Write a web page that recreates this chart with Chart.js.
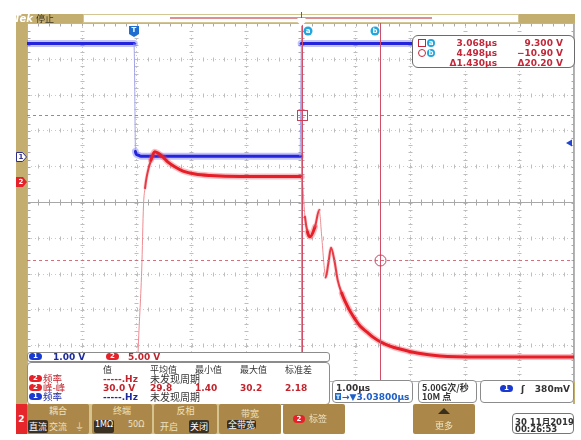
<!DOCTYPE html>
<html>
<head>
<meta charset="utf-8">
<script src="https://cdn.jsdelivr.net/npm/chart.js@4.4.1/dist/chart.umd.min.js"></script>
<style>
    html, body { margin: 0; padding: 0; background: #fff; }
    #scope { position: relative; width: 581px; height: 440px; overflow: hidden; font-family: "DejaVu Sans", sans-serif; }
    #scope canvas { position: absolute; left: 0; top: 0; }
    .box { position: absolute; background: #fff; border: 1px solid #8c8c8c; border-radius: 4px; box-sizing: border-box; }
    .t { position: absolute; white-space: nowrap; line-height: 9px; }
    .b9 { font: bold 9px "DejaVu Sans"; }
    .cjk { font-family: "Noto Sans CJK SC"; }
    .pill { position: absolute; width: 13px; height: 7px; border-radius: 4px; color: #fff; font: bold 7px "DejaVu Sans"; line-height: 7px; text-align: center; }
    .pill.blue { background: #1b3bd0; }
    .pill.red { background: #e5222a; }
    .c-blue { color: #1c2a9e; }
    .c-red { color: #c0252e; }
    .c-dark { color: #333; }
    .btn { position: absolute; top: 404px; height: 30px; background: #ab8849; border-radius: 2px; }
    .btn .ttl { position: absolute; left: 0; width: 100%; top: 1px; text-align: center; color: #eee2c2; font: 9px "Noto Sans CJK SC"; line-height: 12px; }
    .opt { position: absolute; top: 16px; height: 13px; line-height: 13px; color: #eee2c2; font: 9px "Noto Sans CJK SC"; white-space: nowrap; }
    .opt.sel { background: #3a3123; color: #fff; border-radius: 2px; padding: 0 1px; }
    .cur-val { position: absolute; font: bold 9px "DejaVu Sans"; color: #c2283a; line-height: 10px; white-space: nowrap; }
    .csq { position: absolute; width: 6px; height: 6px; border: 1px solid #c2283a; }
    .ccl { position: absolute; width: 6px; height: 6px; border: 1px solid #c2283a; border-radius: 50%; }
    .clbl { position: absolute; width: 8px; height: 8px; border-radius: 50%; background: #22a6de; color: #fff; font: bold 7px "DejaVu Sans"; line-height: 8px; text-align: center; }
</style>
</head>
<body>
<div id="scope">
    <canvas id="scope-canvas" width="581" height="440"></canvas>

    <!-- Lectura de cursores -->
    <div class="box" style="left:412px;top:35px;width:163px;height:33px;border-color:#6b6b6b;border-radius:6px;">
        <span class="csq" style="left:5px;top:3px"></span>
        <span class="clbl" style="left:14px;top:3px">a</span>
        <span class="ccl" style="left:5px;top:13px"></span>
        <span class="clbl" style="left:14px;top:13px">b</span>
        <span class="cur-val" id="cur-ta" style="right:77px;top:2px"></span>
        <span class="cur-val" id="cur-va" style="right:11px;top:2px"></span>
        <span class="cur-val" id="cur-tb" style="right:77px;top:12px"></span>
        <span class="cur-val" id="cur-vb" style="right:11px;top:12px"></span>
        <span class="cur-val" id="cur-dt" style="right:77px;top:22px"></span>
        <span class="cur-val" id="cur-dv" style="right:11px;top:22px"></span>
    </div>

    <!-- Escala vertical de canales -->
    <div class="box" style="left:27px;top:352px;width:303px;height:10px;border-radius:3px;">
        <span class="pill blue" style="left:1px;top:0px">1</span>
        <span class="t b9 c-blue" style="left:25px;top:-1px">1.00 V</span>
        <span class="pill red" style="left:78px;top:0px">2</span>
        <span class="t b9 c-red" style="left:100px;top:-1px">5.00 V</span>
    </div>

    <!-- Tabla de mediciones -->
    <div class="box" style="left:27px;top:362px;width:303px;height:43px;border-radius:4px;">
        <span class="t cjk c-dark" style="left:75px;top:2px;font-size:9px">值</span>
        <span class="t cjk c-dark" style="left:122px;top:2px;font-size:9px">平均值</span>
        <span class="t cjk c-dark" style="left:167px;top:2px;font-size:9px">最小值</span>
        <span class="t cjk c-dark" style="left:212px;top:2px;font-size:9px">最大值</span>
        <span class="t cjk c-dark" style="left:257px;top:2px;font-size:9px">标准差</span>

        <span class="pill red" style="left:1px;top:12px">2</span>
        <span class="t cjk c-red" style="left:15px;top:11px;font-size:9.5px">频率</span>
        <span class="t b9 c-red" style="left:75px;top:11px">-----.Hz</span>
        <span class="t cjk c-dark" style="left:122px;top:11px;font-size:10px">未发现周期</span>

        <span class="pill red" style="left:1px;top:21px">2</span>
        <span class="t cjk c-red" style="left:15px;top:20px;font-size:9.5px">峰-峰</span>
        <span class="t b9 c-red" style="left:75px;top:20px">30.0 V</span>
        <span class="t b9 c-red" style="left:122px;top:20px">29.8</span>
        <span class="t b9 c-red" style="left:167px;top:20px">1.40</span>
        <span class="t b9 c-red" style="left:212px;top:20px">30.2</span>
        <span class="t b9 c-red" style="left:257px;top:20px">2.18</span>

        <span class="pill blue" style="left:1px;top:30px">1</span>
        <span class="t cjk c-blue" style="left:15px;top:29px;font-size:9.5px">频率</span>
        <span class="t b9 c-blue" style="left:75px;top:29px">-----.Hz</span>
        <span class="t cjk c-dark" style="left:122px;top:29px;font-size:10px">未发现周期</span>
    </div>

    <!-- Base de tiempo, muestreo y disparo -->
    <div class="box" style="left:332px;top:380px;width:81px;height:23px;">
        <span class="t b9 c-dark" style="left:3px;top:2px">1.00µs</span>
        <span style="position:absolute;left:2px;top:12px;width:6px;height:7px;background:#1f6fd1;color:#fff;font:bold 6px 'DejaVu Sans';line-height:7px;text-align:center">T</span>
        <span class="t b9" style="left:9px;top:11px;color:#1f5fc8">→▼3.03800µs</span>
    </div>
    <div class="box" style="left:418px;top:380px;width:59px;height:23px;">
        <span class="t cjk c-dark" style="left:3px;top:2px;font-size:9px;font-weight:bold">5.00G次/秒</span>
        <span class="t cjk c-dark" style="left:3px;top:11px;font-size:9px;font-weight:bold">10M 点</span>
    </div>
    <div class="box" style="left:480px;top:380px;width:94px;height:23px;">
        <span class="pill blue" style="left:19px;top:4px">1</span>
        <span class="t b9 c-dark" style="left:40px;top:3px">ʃ</span>
        <span class="t b9 c-dark" style="right:3px;top:3px">380mV</span>
    </div>

    <!-- Menú inferior -->
    <div style="position:absolute;left:16px;top:404px;width:11px;height:30px;background:#e5262a;color:#fff;font:bold 9px 'DejaVu Sans';line-height:30px;text-align:center">2</div>
    <div style="position:absolute;left:27px;top:404px;width:254px;height:30px;background:#d6c48e"></div>
    <div class="btn" style="left:27px;width:62px;">
        <span class="ttl">耦合</span>
        <span class="opt sel" style="left:1px">直流</span>
        <span class="opt" style="left:22px">交流</span>
        <span class="opt" style="left:48px">⏚</span>
    </div>
    <div class="btn" style="left:92px;width:60px;">
        <span class="ttl">终端</span>
        <span class="opt sel" style="left:2px;font-family:'DejaVu Sans';font-size:8px">1MΩ</span>
        <span class="opt" style="left:36px;font-family:'DejaVu Sans';font-size:8px">50Ω</span>
    </div>
    <div class="btn" style="left:154px;width:63px;">
        <span class="ttl">反相</span>
        <span class="opt" style="left:6px">开启</span>
        <span class="opt sel" style="left:35px">关闭</span>
    </div>
    <div class="btn" style="left:219px;width:62px;">
        <span class="ttl" style="top:4px">带宽</span>
        <span class="opt sel" style="left:8px;top:16px;height:9px;line-height:9px">全带宽</span>
    </div>
    <div class="btn" style="left:283px;width:62px;">
        <span class="pill red" style="left:10px;top:11px;width:12px;height:8px;line-height:8px">2</span>
        <span class="opt" style="left:26px;top:8px">标签</span>
    </div>
    <div class="btn" style="left:413px;width:62px;">
        <span style="position:absolute;left:25px;top:4px;width:0;height:0;border-left:6px solid transparent;border-right:6px solid transparent;border-bottom:6px solid #3a2e1c"></span>
        <span class="opt" style="left:22px;top:15px">更多</span>
    </div>
    <div class="box" style="left:512px;top:413px;width:62px;height:21px;border-color:#777;">
        <span class="t b9 c-dark" style="left:2px;top:1px;font-size:8.5px">30 11<span class="cjk">月</span>2019</span>
        <span class="t b9 c-dark" style="left:2px;top:10px;font-size:8.5px">00:26:53</span>
    </div>
</div>

<script>
    // Escalas del osciloscopio (10 x 10 divisiones)
    const TIME_PER_DIV = 1.0;        // µs/div
    const TIME_CENTER = 3.038;       // µs en el centro de la pantalla
    const CH1_VOLTS_PER_DIV = 1.0;
    const CH2_VOLTS_PER_DIV = 5.0;
    const CH1_POSITION = 1.26;       // divisiones sobre el centro
    const CH2_POSITION = 0.57;
    const TRIGGER_LEVEL = 0.38;      // V en CH1

    // Cursores a / b
    const cursorTimes = [3.068, 4.498];
    const cursorVolts = [9.3, -10.9];

    // CH1 (azul)
    const ch1Time = [-1.962, 0.0, 0.02, 0.05, 0.12, 3.035, 3.05, 8.038];
    const ch1Volts = [3.17, 3.17, 0.15, 0.06, 0.02, 0.02, 3.17, 3.17];

    // CH2 (rojo)
    const ch2Time = [-1.962, 0.058, 0.068, 0.135, 0.168, 0.196, 0.232, 0.305, 0.373, 0.433, 0.525, 0.616,
        0.739, 0.89, 1.11, 1.384, 1.93, 3.03, 3.06, 3.12, 3.166, 3.212, 3.303, 3.382, 3.426, 3.499,
        3.547, 3.596, 3.656, 3.718, 3.792, 3.852, 3.944, 4.035, 4.126, 4.254, 4.364, 4.51, 4.675,
        4.857, 5.168, 5.589, 6.32, 8.038];
    const ch2Volts = [-26.5, -26.5, -23.95, -12.36, -3.28, -0.91, 0.91, 3.0, 4.16, 3.98, 3.42, 2.72,
        2.07, 1.47, 1.05, 0.84, 0.70, 0.70, 0.63, -4.92, -7.05, -7.71, -6.31, -3.98, -7.71, -13.38,
        -11.42, -9.25, -10.96, -13.76, -15.61, -16.69, -18.09, -19.2, -20.18, -21.02, -21.72, -22.42, -22.97,
        -23.39, -23.95, -24.37, -24.51, -24.51];

    const GOLD = '#c3ae6f';

    // grosor segun pendiente: flancos rapidos se ven finos
    function bySlope(flat, mid, steep) {
        return ctx => {
            const dx = Math.abs(ctx.p1.x - ctx.p0.x);
            const dy = Math.abs(ctx.p1.y - ctx.p0.y);
            const s = dy / Math.max(dx, 0.01);
            return s > 8 ? steep : s > 2.5 ? mid : flat;
        };
    }

    const framePlugin = {
        id: 'frame',
        beforeDraw(chart) {
            const ctx = chart.ctx;
            ctx.save();
            ctx.fillStyle = '#fff';
            ctx.fillRect(0, 0, chart.width, chart.height);
            ctx.fillStyle = GOLD;
            ctx.fillRect(16, 14, 11, 390);
            ctx.fillRect(573, 14, 2, 390);
            ctx.fillRect(16, 14, 67, 9);
            ctx.fillRect(518, 14, 57, 9);
            ctx.strokeStyle = '#d3c594';
            ctx.strokeRect(83.5, 14.5, 435, 8);
            ctx.fillStyle = '#dc8e90';
            ctx.fillRect(170, 17, 262, 2);
            ctx.fillStyle = '#fff';
            ctx.font = 'bold italic 10px "DejaVu Sans"';
            ctx.textBaseline = 'alphabetic';
            ctx.fillText('Tek', 14, 22);
            ctx.fillStyle = '#3a3322';
            ctx.font = '9px "Noto Sans CJK SC"';
            ctx.fillText('停止', 36, 22);
            ctx.restore();
        },
        beforeDatasetsDraw(chart) {
            const { ctx, chartArea: a, scales } = chart;
            const x = scales.x, y = scales.y2;
            const xs = [], ys = [];
            for (let k = 0; k <= 10; k++) {
                xs.push(Math.round(x.getPixelForValue(x.min + k * TIME_PER_DIV)) + 0.5);
                ys.push(Math.round(y.getPixelForValue(y.min + k * CH2_VOLTS_PER_DIV)) + 0.5);
            }
            const stepX = (xs[10] - xs[0]) / 50, stepY = (ys[0] - ys[10]) / 50;
            ctx.save();
            ctx.lineWidth = 1;

            // lineas punteadas de division
            ctx.strokeStyle = '#c9c9c9';
            ctx.setLineDash([1, 3]);
            ctx.beginPath();
            for (let k = 1; k < 10; k++) {
                if (k === 5) continue;
                ctx.moveTo(xs[k], a.top); ctx.lineTo(xs[k], a.bottom);
                ctx.moveTo(a.left, ys[k]); ctx.lineTo(a.right, ys[k]);
            }
            ctx.stroke();
            ctx.setLineDash([]);

            // marcas de subdivision
            ctx.strokeStyle = '#bdbdbd';
            ctx.beginPath();
            for (let k = 1; k < 10; k++) {
                if (k === 5) continue;
                for (let j = 1; j < 50; j++) {
                    const yy = Math.round(ys[10] + j * stepY) + 0.5;
                    ctx.moveTo(xs[k] - 2, yy); ctx.lineTo(xs[k] + 2, yy);
                    const xx = Math.round(xs[0] + j * stepX) + 0.5;
                    ctx.moveTo(xx, ys[k] - 2); ctx.lineTo(xx, ys[k] + 2);
                }
            }
            ctx.stroke();

            // ejes centrales y borde
            ctx.strokeStyle = '#a8a8a8';
            ctx.beginPath();
            ctx.moveTo(xs[5], a.top); ctx.lineTo(xs[5], a.bottom);
            ctx.moveTo(a.left, ys[5]); ctx.lineTo(a.right, ys[5]);
            for (let j = 1; j < 50; j++) {
                const yy = Math.round(ys[10] + j * stepY) + 0.5;
                const xx = Math.round(xs[0] + j * stepX) + 0.5;
                ctx.moveTo(xs[5] - 3, yy); ctx.lineTo(xs[5] + 3, yy);
                ctx.moveTo(xx, ys[5] - 3); ctx.lineTo(xx, ys[5] + 3);
                ctx.moveTo(xx, ys[10]); ctx.lineTo(xx, ys[10] + 3);
                ctx.moveTo(xs[0], yy); ctx.lineTo(xs[0] + 3, yy);
                ctx.moveTo(xs[10], yy); ctx.lineTo(xs[10] - 3, yy);
            }
            ctx.stroke();
            ctx.strokeStyle = '#b4b4b4';
            ctx.strokeRect(xs[0], ys[10], xs[10] - xs[0], ys[0] - ys[10]);
            ctx.restore();
        },
        afterDatasetsDraw(chart) {
            const { ctx, chartArea: a, scales } = chart;
            const x = scales.x, y1 = scales.y1, y2 = scales.y2;
            const [ax, bx] = cursorTimes.map(t => Math.round(x.getPixelForValue(t)) + 0.5);
            const [ay, by] = cursorVolts.map(v => Math.round(y2.getPixelForValue(v)) + 0.5);
            ctx.save();

            // cursores
            ctx.lineWidth = 1;
            ctx.strokeStyle = '#d24d66';
            ctx.beginPath();
            ctx.moveTo(ax, a.top); ctx.lineTo(ax, a.bottom);
            ctx.moveTo(bx, a.top); ctx.lineTo(bx, a.bottom);
            ctx.stroke();
            ctx.strokeStyle = '#d2707e';
            ctx.setLineDash([3, 3]);
            ctx.beginPath();
            ctx.moveTo(a.left, ay); ctx.lineTo(a.right, ay);
            ctx.moveTo(a.left, by); ctx.lineTo(a.right, by);
            ctx.stroke();
            ctx.setLineDash([]);
            ctx.strokeStyle = '#c9405a';
            ctx.strokeRect(ax - 5, ay - 5, 10, 10);
            ctx.beginPath();
            ctx.arc(bx, by, 5.5, 0, Math.PI * 2);
            ctx.stroke();

            ctx.textAlign = 'center';
            ctx.textBaseline = 'middle';
            const badge = (cx, letter) => {
                ctx.fillStyle = '#22a6de';
                ctx.beginPath(); ctx.arc(cx, 31, 4.5, 0, Math.PI * 2); ctx.fill();
                ctx.fillStyle = '#fff';
                ctx.font = 'bold 7px "DejaVu Sans"';
                ctx.fillText(letter, cx, 31);
            };
            badge(ax + 5.5, 'a');
            badge(bx - 5.5, 'b');

            // marca de disparo T
            const tx = Math.round(x.getPixelForValue(0));
            ctx.fillStyle = '#1f6fd1';
            ctx.beginPath();
            ctx.moveTo(tx - 5, 26); ctx.lineTo(tx + 5, 26); ctx.lineTo(tx + 5, 34);
            ctx.lineTo(tx, 37); ctx.lineTo(tx - 5, 34); ctx.closePath(); ctx.fill();
            ctx.fillStyle = '#fff';
            ctx.font = 'bold 7px "DejaVu Sans"';
            ctx.fillText('T', tx, 30.5);

            // punto de expansion arriba
            const cx = Math.round(x.getPixelForValue(TIME_CENTER)) + 0.5;
            ctx.strokeStyle = '#1f6fd1';
            ctx.beginPath(); ctx.moveTo(cx, 12); ctx.lineTo(cx, 19); ctx.stroke();
            ctx.beginPath();
            ctx.moveTo(cx - 4, 18); ctx.lineTo(cx + 4, 18); ctx.lineTo(cx + 4, 22);
            ctx.lineTo(cx, 26); ctx.lineTo(cx - 4, 22); ctx.closePath(); ctx.fill();

            // marcadores de canal
            const g1 = Math.round(y1.getPixelForValue(0));
            ctx.fillStyle = '#fff';
            ctx.strokeStyle = '#2c2c8c';
            ctx.beginPath();
            ctx.moveTo(16.5, g1 - 4.5); ctx.lineTo(22.5, g1 - 4.5); ctx.lineTo(26.5, g1);
            ctx.lineTo(22.5, g1 + 4.5); ctx.lineTo(16.5, g1 + 4.5); ctx.closePath();
            ctx.fill(); ctx.stroke();
            ctx.fillStyle = '#2c2c8c';
            ctx.font = 'bold 7px "DejaVu Sans"';
            ctx.fillText('1', 21, g1 + 0.5);

            const g2 = Math.round(y2.getPixelForValue(0));
            ctx.fillStyle = '#e5222a';
            ctx.beginPath();
            ctx.moveTo(16, g2 - 5); ctx.lineTo(23, g2 - 5); ctx.lineTo(27, g2);
            ctx.lineTo(23, g2 + 5); ctx.lineTo(16, g2 + 5); ctx.closePath(); ctx.fill();
            ctx.fillStyle = '#fff';
            ctx.fillText('2', 21, g2 + 0.5);

            // nivel de disparo
            const ty = Math.round(y1.getPixelForValue(TRIGGER_LEVEL));
            ctx.fillStyle = '#2244cc';
            ctx.beginPath();
            ctx.moveTo(566, ty); ctx.lineTo(572, ty - 3.5); ctx.lineTo(572, ty + 3.5); ctx.closePath(); ctx.fill();
            ctx.restore();
        }
    };

    const toPoints = (ts, vs) => ts.map((t, i) => ({ x: t, y: vs[i] }));

    function trace(data, axis, order, flat, mid, steep) {
        return {
            data,
            yAxisID: axis,
            order,
            borderColor: flat.color,
            borderWidth: flat.width,
            cubicInterpolationMode: 'monotone',
            borderCapStyle: 'round',
            borderJoinStyle: 'round',
            pointRadius: 0,
            fill: false,
            segment: {
                borderColor: bySlope(flat.color, mid.color, steep.color),
                borderWidth: bySlope(flat.width, mid.width, steep.width)
            }
        };
    }

    const ch1Data = toPoints(ch1Time, ch1Volts);
    const ch2Data = toPoints(ch2Time, ch2Volts);

    new Chart(document.getElementById('scope-canvas'), {
        type: 'line',
        data: {
            datasets: [
                trace(ch2Data, 'y2', 0, { color: '#e61e28', width: 3 }, { color: '#e63a44', width: 2 }, { color: '#ee8c92', width: 1 }),
                trace(ch2Data, 'y2', 1, { color: 'rgba(240,70,80,0.35)', width: 6 }, { color: 'rgba(240,70,80,0.22)', width: 3.5 }, { color: 'rgba(0,0,0,0)', width: 1 }),
                trace(ch1Data, 'y1', 2, { color: '#2424dc', width: 3 }, { color: '#6a6ae0', width: 1 }, { color: '#a2a2e6', width: 1 }),
                trace(ch1Data, 'y1', 3, { color: 'rgba(80,80,250,0.35)', width: 7 }, { color: 'rgba(0,0,0,0)', width: 1 }, { color: 'rgba(0,0,0,0)', width: 1 })
            ]
        },
        options: {
            responsive: false,
            animation: false,
            devicePixelRatio: 1,
            layout: { padding: { left: 27, top: 23, right: 7, bottom: 59 } },
            plugins: { legend: { display: false }, tooltip: { enabled: false } },
            scales: {
                x: { type: 'linear', display: false, min: TIME_CENTER - 5 * TIME_PER_DIV, max: TIME_CENTER + 5 * TIME_PER_DIV },
                y1: { type: 'linear', display: false, min: -(5 + CH1_POSITION) * CH1_VOLTS_PER_DIV, max: (5 - CH1_POSITION) * CH1_VOLTS_PER_DIV },
                y2: { type: 'linear', display: false, min: -(5 + CH2_POSITION) * CH2_VOLTS_PER_DIV, max: (5 - CH2_POSITION) * CH2_VOLTS_PER_DIV }
            }
        },
        plugins: [framePlugin]
    });

    // textos de la lectura de cursores
    const volts = v => v.toPrecision(4).replace('-', '−') + ' V';
    document.getElementById('cur-ta').textContent = cursorTimes[0].toFixed(3) + 'µs';
    document.getElementById('cur-tb').textContent = cursorTimes[1].toFixed(3) + 'µs';
    document.getElementById('cur-dt').textContent = 'Δ' + (cursorTimes[1] - cursorTimes[0]).toFixed(3) + 'µs';
    document.getElementById('cur-va').textContent = volts(cursorVolts[0]);
    document.getElementById('cur-vb').textContent = volts(cursorVolts[1]);
    document.getElementById('cur-dv').textContent = 'Δ' + volts(Math.abs(cursorVolts[0] - cursorVolts[1]));
</script>
</body>
</html>
